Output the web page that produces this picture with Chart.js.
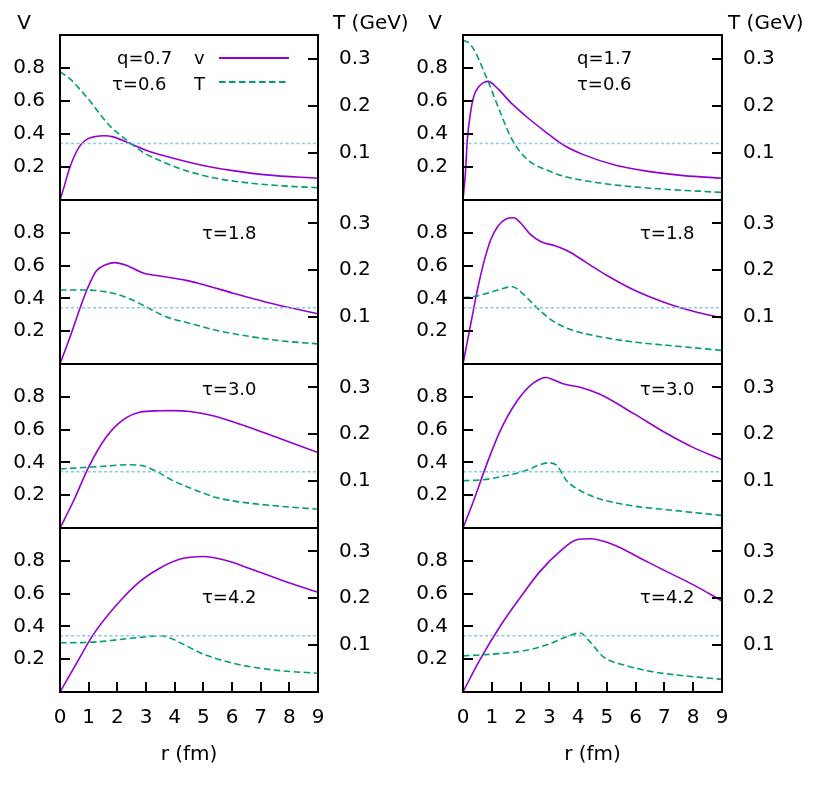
<!DOCTYPE html>
<html>
<head>
<meta charset="utf-8">
<script src="https://cdn.jsdelivr.net/npm/chart.js@4.4.1/dist/chart.umd.min.js"></script>
<style>
  body { margin: 0; background: #fff; }
  #wrap { position: relative; width: 817px; height: 794px; overflow: hidden; }
  canvas { position: absolute; }
</style>
</head>
<body>
<div id="wrap"></div>
<script>
const X_TICKS = [0, 1, 2, 3, 4, 5, 6, 7, 8, 9];
const V_TICKS = [0.2, 0.4, 0.6, 0.8];
const T_TICKS = [0.1, 0.2, 0.3];
const T_CRIT = 0.12;

// q=0.7, tau=0.6
const r_v_q07_t06 = [0, 0.14, 0.31, 0.49, 0.72, 0.95, 1.24, 1.53, 1.88, 2.4, 3.05, 3.63, 4.87, 6.03, 7.2, 9];
const v_q07_t06   = [0, 0.078, 0.18, 0.262, 0.334, 0.369, 0.385, 0.389, 0.381, 0.345, 0.298, 0.268, 0.214, 0.178, 0.152, 0.132];
const r_T_q07_t06 = [0, 0.37, 0.72, 1.07, 1.42, 1.77, 2.12, 2.47, 2.93, 3.63, 4.3, 5.45, 6.6, 7.78, 9];
const T_q07_t06   = [0.272, 0.256, 0.233, 0.208, 0.18, 0.155, 0.137, 0.12, 0.1, 0.08, 0.064, 0.046, 0.036, 0.03, 0.026];

// q=1.7, tau=0.6
const r_v_q17_t06 = [0, 0.09, 0.15, 0.27, 0.38, 0.56, 0.73, 0.87, 1.2, 1.66, 2.24, 2.83, 3.52, 4.18, 5.34, 6.5, 7.67, 9];
const v_q17_t06   = [0, 0.18, 0.365, 0.539, 0.631, 0.689, 0.713, 0.719, 0.676, 0.59, 0.5, 0.418, 0.33, 0.275, 0.209, 0.172, 0.148, 0.132];
const r_T_q17_t06 = [0, 0.21, 0.38, 0.56, 0.73, 0.9, 1.08, 1.31, 1.6, 1.9, 2.36, 2.94, 3.52, 4.76, 6.5, 9];
const T_q17_t06   = [0.339, 0.333, 0.319, 0.297, 0.272, 0.248, 0.219, 0.184, 0.141, 0.109, 0.08, 0.063, 0.05, 0.036, 0.025, 0.016];

// q=0.7, tau=1.8
const r_v_q07_t18 = [0, 0.34, 0.8, 0.94, 1.27, 1.62, 1.9, 2.31, 2.9, 3.6, 4.4, 5.1, 6.03, 7.2, 9];
const v_q07_t18   = [0, 0.16, 0.39, 0.453, 0.568, 0.607, 0.618, 0.602, 0.555, 0.534, 0.51, 0.479, 0.432, 0.377, 0.306];
const r_T_q07_t18 = [0, 0.8, 1.38, 1.97, 2.55, 3.13, 3.7, 4.64, 5.45, 6.6, 7.78, 9];
const T_q07_t18   = [0.158, 0.158, 0.156, 0.149, 0.136, 0.118, 0.101, 0.085, 0.072, 0.059, 0.049, 0.043];

// q=1.7, tau=1.8
const r_v_q17_t18 = [0, 0.15, 0.33, 0.5, 0.73, 0.96, 1.2, 1.49, 1.76, 2.01, 2.36, 2.71, 3.17, 3.64, 4.1, 4.45, 4.99, 5.92, 7.08, 8.0, 9];
const v_q17_t18   = [0, 0.136, 0.3, 0.451, 0.624, 0.756, 0.837, 0.884, 0.892, 0.858, 0.787, 0.746, 0.722, 0.689, 0.64, 0.6, 0.541, 0.453, 0.371, 0.322, 0.281];
const r_T_q17_t18 = [0, 0.38, 0.85, 1.31, 1.72, 2.01, 2.36, 2.71, 3.17, 3.76, 4.45, 5.92, 7.08, 9];
const T_q17_t18   = [0.142, 0.144, 0.151, 0.16, 0.165, 0.154, 0.133, 0.112, 0.09, 0.073, 0.062, 0.047, 0.04, 0.029];

// q=0.7, tau=3.0
const r_v_q07_t30 = [0, 0.45, 1.03, 1.62, 2.2, 2.78, 3.48, 4.0, 4.52, 5.22, 6.03, 7.2, 9];
const v_q07_t30   = [0, 0.157, 0.382, 0.556, 0.659, 0.706, 0.715, 0.716, 0.71, 0.689, 0.648, 0.576, 0.46];
const r_T_q07_t30 = [0, 0.8, 1.62, 2.31, 2.78, 3.36, 3.94, 4.64, 5.45, 6.6, 7.78, 9];
const T_q07_t30   = [0.126, 0.129, 0.132, 0.135, 0.134, 0.121, 0.101, 0.083, 0.065, 0.053, 0.046, 0.04];

// q=1.7, tau=3.0
const r_v_q17_t30 = [0, 0.35, 0.81, 1.28, 1.86, 2.44, 2.9, 3.14, 3.48, 4.07, 4.76, 5.92, 7.08, 8.01, 9];
const v_q17_t30   = [0, 0.157, 0.382, 0.588, 0.77, 0.883, 0.918, 0.904, 0.879, 0.858, 0.815, 0.699, 0.576, 0.49, 0.417];
const r_T_q17_t30 = [0, 0.7, 1.51, 2.21, 2.67, 2.96, 3.25, 3.6, 4.07, 4.76, 5.92, 7.08, 9];
const T_q17_t30   = [0.101, 0.103, 0.112, 0.123, 0.135, 0.139, 0.134, 0.101, 0.08, 0.062, 0.047, 0.039, 0.027];

// q=0.7, tau=4.2
const r_v_q07_t42 = [0, 0.57, 1.15, 1.97, 2.78, 3.48, 4.17, 4.99, 5.8, 6.73, 7.78, 9];
const v_q07_t42   = [0, 0.173, 0.347, 0.53, 0.673, 0.755, 0.809, 0.826, 0.802, 0.745, 0.679, 0.608];
const r_T_q07_t42 = [0, 1.03, 2.08, 3.01, 3.45, 3.71, 4.3, 4.88, 5.8, 6.73, 7.78, 9];
const T_q07_t42   = [0.105, 0.106, 0.112, 0.118, 0.12, 0.118, 0.102, 0.084, 0.065, 0.053, 0.045, 0.04];

// q=1.7, tau=4.2
const r_v_q17_t42 = [0, 0.58, 1.28, 1.97, 2.67, 3.37, 3.95, 4.41, 5.23, 6.16, 7.08, 8.01, 9];
const v_q17_t42   = [0, 0.194, 0.398, 0.571, 0.734, 0.857, 0.928, 0.934, 0.898, 0.816, 0.734, 0.653, 0.555];
const r_T_q17_t42 = [0, 1.28, 2.21, 3.02, 3.6, 4.07, 4.41, 4.88, 5.69, 6.62, 7.78, 9];
const T_q17_t42   = [0.077, 0.082, 0.089, 0.103, 0.118, 0.126, 0.107, 0.075, 0.056, 0.043, 0.034, 0.027];

const PURPLE = '#9400d3';
const GREEN = '#009e73';
const SKY = '#86cbee';
const FONT = '"DejaVu Sans", sans-serif';

// column / row geometry of the plot boxes
const COLS = [
  { left: 0, width: 410, yW: 60, y1W: 92, vDx: 36, tDx: 15, tauDx: 142 },
  { left: 400, width: 417, yW: 63, y1W: 95, vDx: 28, tDx: 6, tauDx: 177 }
];
const ROWS = [
  { top: 35, h: 165, tauDy: 55 },
  { top: 200, h: 164, tauDy: 39 },
  { top: 364, h: 164, tauDy: 31 },
  { top: 528, h: 164, tauDy: 75 }
];

const panels = [
  { col: 0, row: 0, rv: r_v_q07_t06, v: v_q07_t06, rT: r_T_q07_t06, T: T_q07_t06, q: 'q=0.7', tau: 'τ=0.6' },
  { col: 1, row: 0, rv: r_v_q17_t06, v: v_q17_t06, rT: r_T_q17_t06, T: T_q17_t06, q: 'q=1.7', tau: 'τ=0.6' },
  { col: 0, row: 1, rv: r_v_q07_t18, v: v_q07_t18, rT: r_T_q07_t18, T: T_q07_t18, tau: 'τ=1.8' },
  { col: 1, row: 1, rv: r_v_q17_t18, v: v_q17_t18, rT: r_T_q17_t18, T: T_q17_t18, tau: 'τ=1.8' },
  { col: 0, row: 2, rv: r_v_q07_t30, v: v_q07_t30, rT: r_T_q07_t30, T: T_q07_t30, tau: 'τ=3.0' },
  { col: 1, row: 2, rv: r_v_q17_t30, v: v_q17_t30, rT: r_T_q17_t30, T: T_q17_t30, tau: 'τ=3.0' },
  { col: 0, row: 3, rv: r_v_q07_t42, v: v_q07_t42, rT: r_T_q07_t42, T: T_q07_t42, tau: 'τ=4.2' },
  { col: 1, row: 3, rv: r_v_q17_t42, v: v_q17_t42, rT: r_T_q17_t42, T: T_q17_t42, tau: 'τ=4.2' }
];

const pts = (xs, ys) => xs.map((x, i) => ({ x, y: ys[i] }));

// frame, inward ticks and the text labels inside each panel
const overlay = {
  id: 'overlay',
  afterDatasetsDraw(chart, args, o) {
    const { ctx, chartArea: a, scales } = chart;
    const c = COLS[o.col], rw = ROWS[o.row];
    ctx.save();
    ctx.strokeStyle = '#000';
    ctx.lineWidth = 2;
    ctx.strokeRect(a.left, a.top, a.right - a.left, a.bottom - a.top);
    ctx.beginPath();
    V_TICKS.forEach(v => {
      const y = Math.round(scales.y.getPixelForValue(v));
      ctx.moveTo(a.left, y); ctx.lineTo(a.left + 10, y);
    });
    T_TICKS.forEach(t => {
      const y = Math.round(scales.y1.getPixelForValue(t));
      ctx.moveTo(a.right, y); ctx.lineTo(a.right - 10, y);
    });
    if (o.row === 3) {
      X_TICKS.slice(1, -1).forEach(r => {
        const x = Math.round(scales.x.getPixelForValue(r));
        ctx.moveTo(x, a.bottom); ctx.lineTo(x, a.bottom - 10);
      });
    }
    ctx.stroke();

    ctx.fillStyle = '#000';
    ctx.textBaseline = 'alphabetic';
    if (o.row === 0) {
      ctx.font = '20px ' + FONT;
      ctx.textAlign = 'center';
      ctx.fillText('V', a.left - c.vDx, a.top - 6);
      ctx.textAlign = 'left';
      ctx.fillText('T (GeV)', a.right + c.tDx, a.top - 6);
    }
    ctx.font = '18px ' + FONT;
    ctx.textAlign = 'left';
    if (o.q) {
      const dx = o.col === 0 ? 52 : 114;
      ctx.fillText(o.q, a.left + dx + (o.col === 0 ? 5 : 0), a.top + 29);
      ctx.fillText(o.tau, a.left + dx, a.top + 55);
      if (o.legend) {
        ctx.fillText('v', a.left + 134, a.top + 29);
        ctx.fillText('T', a.left + 134, a.top + 55);
        ctx.lineWidth = 2;
        ctx.strokeStyle = PURPLE;
        ctx.beginPath(); ctx.moveTo(a.left + 159, a.top + 23); ctx.lineTo(a.left + 229, a.top + 23); ctx.stroke();
        ctx.strokeStyle = GREEN;
        ctx.setLineDash([6.5, 3.5]);
        ctx.beginPath(); ctx.moveTo(a.left + 159, a.top + 47); ctx.lineTo(a.left + 229, a.top + 47); ctx.stroke();
      }
    } else {
      ctx.fillText(o.tau, a.left + c.tauDx, a.top + rw.tauDy);
    }
    ctx.restore();
  }
};

const wrap = document.getElementById('wrap');

panels.forEach(p => {
  const c = COLS[p.col], rw = ROWS[p.row];
  const bottomRow = p.row === 3;
  const padTop = p.row === 0 ? rw.top : 6;
  const canvasTop = rw.top - padTop;
  const axisH = 102;
  const height = bottomRow ? padTop + rw.h + axisH : padTop + rw.h + 6;

  const cv = document.createElement('canvas');
  cv.width = c.width;
  cv.height = height;
  cv.style.left = c.left + 'px';
  cv.style.top = canvasTop + 'px';
  wrap.appendChild(cv);

  const tickFont = { family: FONT, size: 20 };

  new Chart(cv, {
    type: 'line',
    data: {
      datasets: [
        {
          data: pts([0, 9], [T_CRIT, T_CRIT]),
          yAxisID: 'y1',
          borderColor: SKY,
          borderWidth: 1.5,
          borderDash: [3, 2.5],
          pointRadius: 0
        },
        {
          data: pts(p.rT, p.T),
          yAxisID: 'y1',
          borderColor: GREEN,
          borderWidth: 1.6,
          borderDash: [6.5, 3.5],
          pointRadius: 0,
          cubicInterpolationMode: 'monotone'
        },
        {
          data: pts(p.rv, p.v),
          yAxisID: 'y',
          borderColor: PURPLE,
          borderWidth: 1.6,
          pointRadius: 0,
          cubicInterpolationMode: 'monotone'
        }
      ]
    },
    options: {
      responsive: false,
      animation: false,
      devicePixelRatio: 1,
      layout: { padding: { top: padTop, bottom: bottomRow ? 0 : 6, left: 0, right: 0 } },
      plugins: {
        legend: { display: false },
        tooltip: { enabled: false },
        overlay: { col: p.col, row: p.row, q: p.q, tau: p.tau, legend: p.col === 0 && p.row === 0 }
      },
      scales: {
        x: {
          type: 'linear',
          min: 0,
          max: 9,
          display: bottomRow,
          grid: { display: false, drawTicks: false },
          border: { display: false },
          afterBuildTicks: s => { s.ticks = X_TICKS.map(v => ({ value: v })); },
          afterFit: s => {
            s.height = bottomRow ? axisH : 0;
            s.paddingLeft = 0; s.paddingRight = 0;
          },
          ticks: { color: '#000', font: tickFont, padding: 14, maxRotation: 0, autoSkip: false },
          title: { display: true, text: 'r (fm)', color: '#000', font: tickFont, padding: { top: 0, bottom: 27 } }
        },
        y: {
          position: 'left',
          min: 0,
          max: 1,
          grid: { display: false, drawTicks: false },
          border: { display: false },
          afterBuildTicks: s => { s.ticks = V_TICKS.map(v => ({ value: v })); },
          afterFit: s => { s.width = c.yW; s.paddingTop = 0; s.paddingBottom = 0; },
          ticks: { color: '#000', font: tickFont, padding: 15, callback: v => v.toFixed(1) }
        },
        y1: {
          position: 'right',
          min: 0,
          max: 0.35,
          grid: { display: false, drawTicks: false },
          border: { display: false },
          afterBuildTicks: s => { s.ticks = T_TICKS.map(v => ({ value: v })); },
          afterFit: s => { s.width = c.y1W; s.paddingTop = 0; s.paddingBottom = 0; },
          ticks: { color: '#000', font: tickFont, padding: 21, callback: v => v.toFixed(1) }
        }
      }
    },
    plugins: [overlay]
  });
});
</script>
</body>
</html>
